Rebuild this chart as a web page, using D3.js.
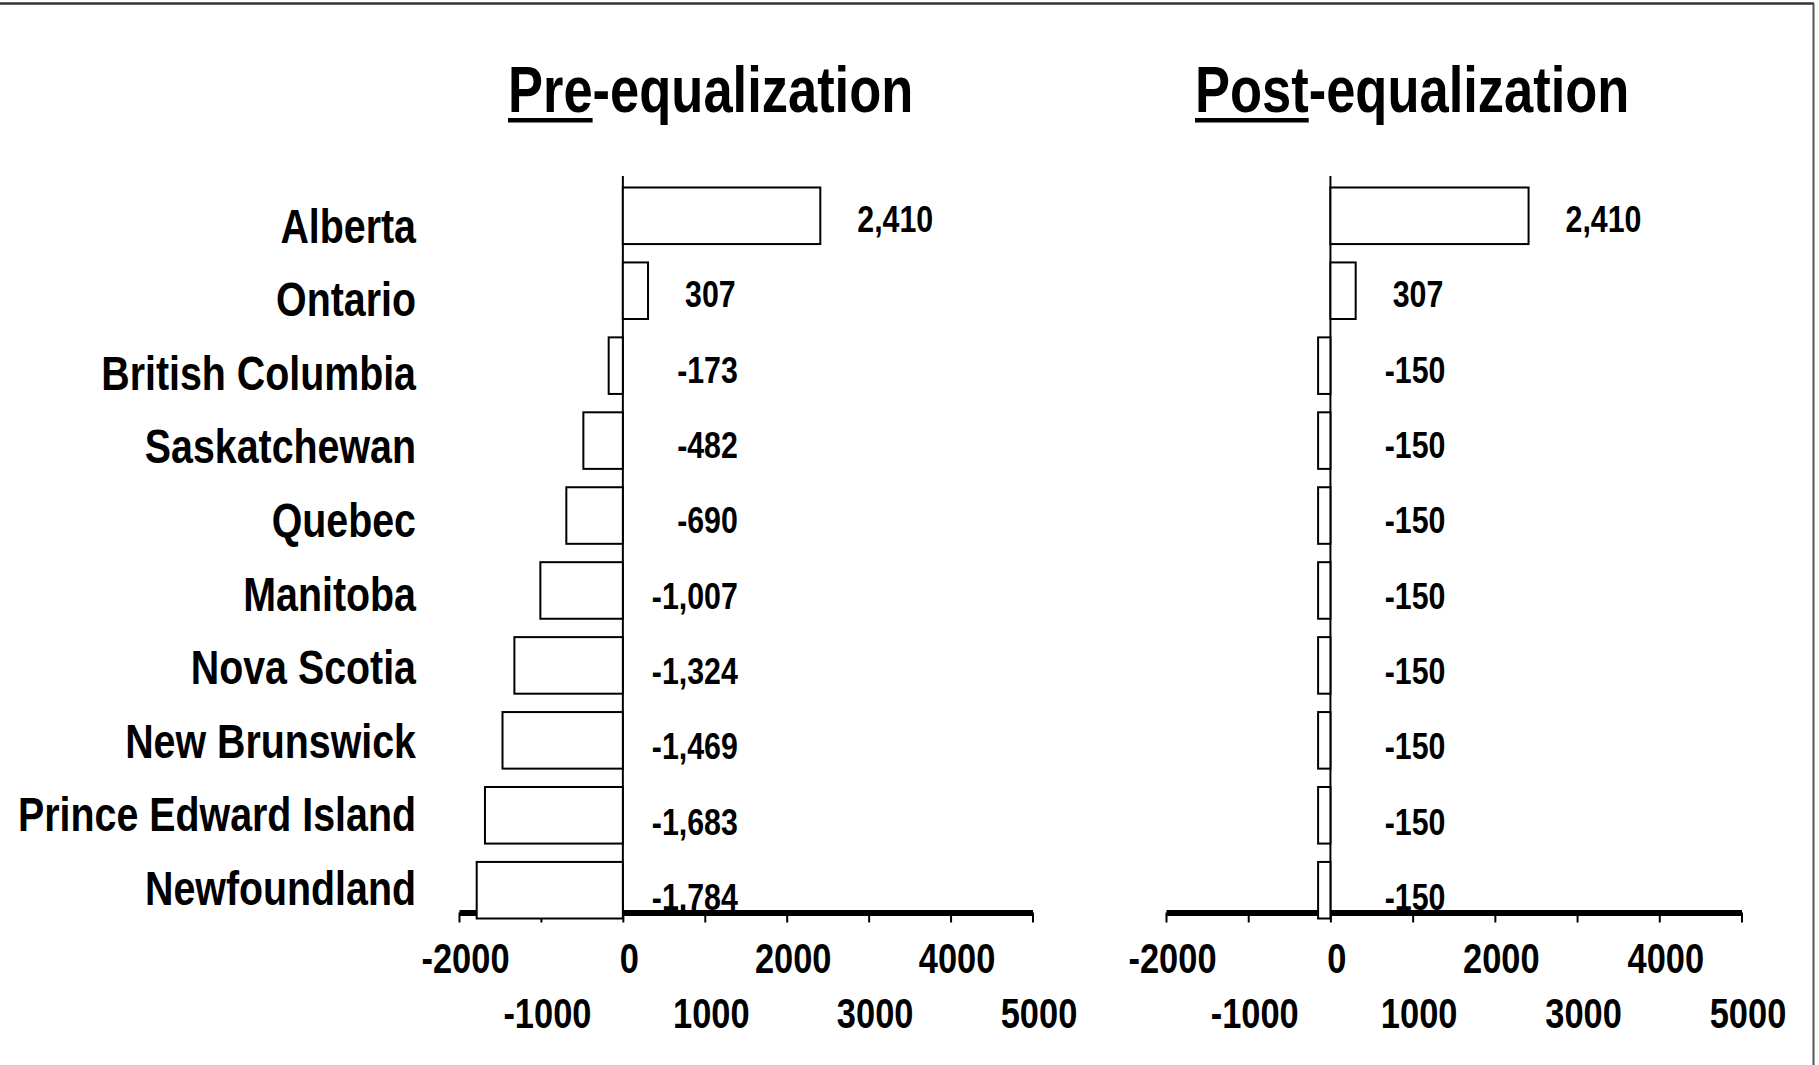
<!DOCTYPE html>
<html>
<head>
<meta charset="utf-8">
<script src="https://cdn.jsdelivr.net/npm/d3@7"></script>
<style>
  html, body { margin: 0; padding: 0; background: #fff; }
  svg text { font-family: "Liberation Sans", Arial, sans-serif; font-weight: bold; fill: #000; }
</style>
</head>
<body>
<div id="container"></div>
<script>
// Provinces, top to bottom
const provinces = ["Alberta", "Ontario", "British Columbia", "Saskatchewan", "Quebec",
  "Manitoba", "Nova Scotia", "New Brunswick", "Prince Edward Island", "Newfoundland"];

// Fiscal capacity relative to average, before and after equalization
const preValues = [2410, 307, -173, -482, -690, -1007, -1324, -1469, -1683, -1784];
const postValues = [2410, 307, -150, -150, -150, -150, -150, -150, -150, -150];

const xTicks = [-2000, -1000, 0, 1000, 2000, 3000, 4000, 5000];
const xDomain = [-2000, 5000];

const width = 1819;
const height = 1065;
const narrow = 0.82; // squeeze the sans to look like a narrow face

// number formats with a plain hyphen as minus
const locale = d3.formatLocale({ decimal: ".", thousands: ",", grouping: [3], currency: ["$", ""], minus: "-" });
const fmtValue = locale.format(",");
const fmtTick = locale.format("d");

const place = (x, y) => `translate(${x},${y}) scale(${narrow},1)`;

const svg = d3.create("svg")
  .attr("width", width)
  .attr("height", height);

// attach first so text can be measured
document.getElementById("container").append(svg.node());

// frame lines (top and right)
svg.append("line").attr("x1", 0).attr("x2", 1814).attr("y1", 3.5).attr("y2", 3.5)
  .attr("stroke", "#333").attr("stroke-width", 2.5);
svg.append("line").attr("x1", 1813.5).attr("x2", 1813.5).attr("y1", 3.5).attr("y2", height)
  .attr("stroke", "#555").attr("stroke-width", 2);

// Shared vertical band scale for the bars
const y = d3.scaleBand()
  .domain(provinces)
  .range([178.5, 927.5])
  .paddingInner(0.245)
  .paddingOuter(0.12);

// Label rows sit a little differently from the bars
const yCat = d3.scalePoint().domain(provinces).range([242.5, 905]);
const yVal = d3.scalePoint().domain(provinces).range([232, 910]);

const axisY = 912.5;

// Category labels on the left
svg.append("g")
  .selectAll("text")
  .data(provinces)
  .join("text")
  .attr("transform", d => place(416, yCat(d)))
  .attr("text-anchor", "end")
  .attr("font-size", 48)
  .text(d => d);

function drawPanel(values, range, titleStart, titleRest, titleX) {
  const x = d3.scaleLinear().domain(xDomain).range(range);
  const g = svg.append("g");

  // Title with underlined first part
  const tg = g.append("g").attr("transform", place(titleX, 111.5));
  const title = tg.append("text").attr("font-size", 64);
  const first = title.append("tspan").text(titleStart);
  title.append("tspan").text(titleRest);
  const firstW = first.node().getComputedTextLength();
  tg.append("rect")
    .attr("x", 0)
    .attr("y", 6.5)
    .attr("width", firstW)
    .attr("height", 4.5)
    .attr("fill", "#000");

  // Zero line
  g.append("line")
    .attr("x1", x(0)).attr("x2", x(0))
    .attr("y1", 176).attr("y2", axisY)
    .attr("stroke", "#000")
    .attr("stroke-width", 2);

  // Bottom axis
  const axis = g.append("g")
    .attr("transform", `translate(0,${axisY})`)
    .call(d3.axisBottom(x).tickValues(xTicks).tickSize(10).tickSizeOuter(0).tickFormat(fmtTick));
  axis.attr("font-family", null).attr("font-size", null);
  axis.select(".domain").attr("stroke", "#000").attr("stroke-width", 6);
  axis.selectAll(".tick line").attr("stroke", "#000").attr("stroke-width", 2);
  axis.selectAll(".tick text")
    .attr("font-size", 42)
    .attr("dy", null)
    .attr("x", 0)
    .attr("y", 0)
    .attr("transform", (d, i) => place(6, i % 2 === 0 ? 60.5 : 115.5));

  // Bars
  g.append("g")
    .selectAll("rect")
    .data(values)
    .join("rect")
    .attr("x", d => x(Math.min(0, d)))
    .attr("y", (d, i) => y(provinces[i]))
    .attr("width", d => Math.abs(x(d) - x(0)))
    .attr("height", y.bandwidth())
    .attr("fill", "#fff")
    .attr("stroke", "#000")
    .attr("stroke-width", 2);

  // Value labels
  g.append("g")
    .selectAll("text")
    .data(values)
    .join("text")
    .attr("transform", (d, i) => place(d >= 0 ? x(d) + 37 : x(0) + 115, yVal(provinces[i])))
    .attr("text-anchor", d => d >= 0 ? "start" : "end")
    .attr("font-size", 37)
    .text(d => fmtValue(d));
}

drawPanel(preValues, [459, 1032.5], "Pre", "-equalization", 508);
drawPanel(postValues, [1166, 1741.5], "Post", "-equalization", 1195);
</script>
</body>
</html>
